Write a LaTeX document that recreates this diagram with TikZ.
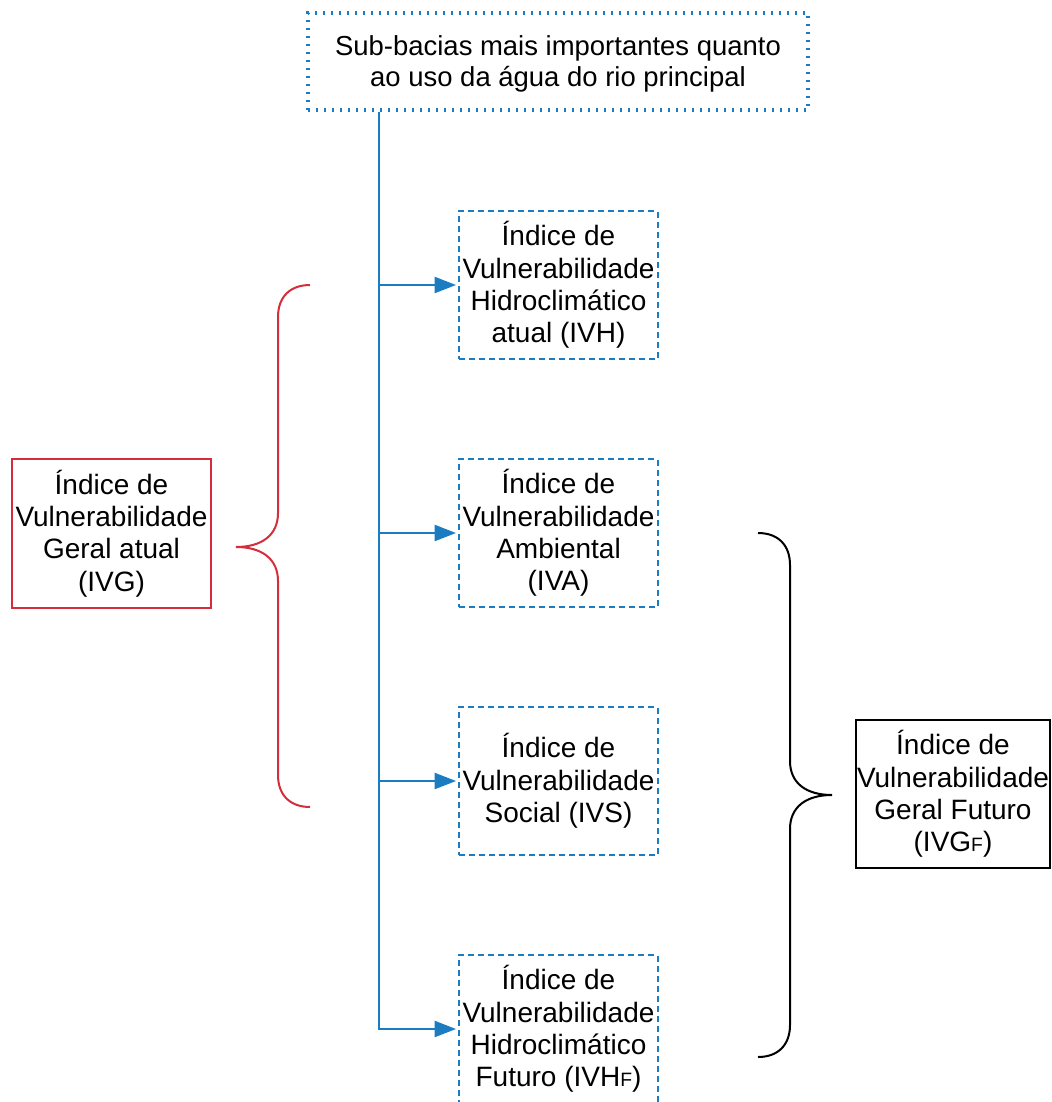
\documentclass[tikz,border=0pt]{standalone}
\usepackage{fontspec}
\setmainfont{Liberation Sans}
\usetikzlibrary{arrows.meta}

\definecolor{flowblue}{RGB}{28,124,194}
\definecolor{bracered}{RGB}{212,46,60}

\newcommand{\smallF}{{\fontsize{14.5}{14.5}\selectfont F}}

\begin{document}
\begin{tikzpicture}[
  x=0.75pt, y=-0.75pt,
  every node/.style={font=\fontsize{21}{24.2}\selectfont, align=center, inner sep=0pt},
  sourcebox/.style={draw=flowblue, line width=2.6pt, dash pattern=on 1.5pt off 4.5pt,
    minimum width=375pt, minimum height=72.75pt, font=\fontsize{20.6}{23.4}\selectfont},
  indexbox/.style={draw=flowblue, line width=1.5pt, dash pattern=on 4.5pt off 3pt,
    minimum width=149.25pt, minimum height=110.5pt},
  redbox/.style={draw=bracered, line width=1.6pt, minimum width=149.25pt, minimum height=111.75pt},
  blackbox/.style={draw=black, line width=1.6pt, minimum width=145.5pt, minimum height=111pt},
  conn/.style={draw=flowblue, line width=1.6pt},
  arrowconn/.style={conn, -{Triangle[length=16pt,width=12pt]}, shorten >=1.5pt},
  bracered line/.style={draw=bracered, line width=1.5pt},
  braceblack line/.style={draw=black, line width=1.5pt}
]
\useasboundingbox (0,0) rectangle (1051,1102);
\clip (0,0) rectangle (1051,1102);

% source box and the four indices
\node[sourcebox] (src) at (558,61.5) {\raisebox{-2.6pt}[\height][\depth]{\begin{tabular}{@{}c@{}}Sub-bacias mais importantes quanto\\ao uso da água do rio principal\end{tabular}}};
\node[indexbox] (ivh)  at (558.5,285)  {Índice de\\Vulnerabilidade\\Hidroclimático\\atual (IVH)};
\node[indexbox] (iva)  at (558.5,533)  {Índice de\\Vulnerabilidade\\Ambiental\\(IVA)};
\node[indexbox] (ivs)  at (558.5,781)  {Índice de\\Vulnerabilidade\\Social (IVS)};
\node[indexbox] (ivhf) at (558.5,1029) {Índice de\\Vulnerabilidade\\Hidroclimático\\Futuro (IVH\smallF)};

% aggregated indices
\node[redbox]   (ivg)  at (111.5,533.5) {Índice de\\Vulnerabilidade\\Geral atual\\(IVG)};
\node[blackbox] (ivgf) at (953,794)     {Índice de\\Vulnerabilidade\\Geral Futuro\\(IVG\smallF)};

% trunk line with branches
\coordinate (trunk) at (379,0);
\draw[arrowconn] (src.south -| trunk) |- (ivhf.west);
\draw[arrowconn] (trunk |- ivh.west) -- (ivh.west);
\draw[arrowconn] (trunk |- iva.west) -- (iva.west);
\draw[arrowconn] (trunk |- ivs.west) -- (ivs.west);

% brace grouping the current indices
\draw[bracered line] (310,285) .. controls (290,285) and (278,297) .. (278,317)
  -- (278,513) .. controls (278,535) and (262,547) .. (236,547)
  .. controls (262,547) and (278,559) .. (278,581)
  -- (278,775) .. controls (278,795) and (290,807) .. (310,807);

% brace grouping the future indices
\draw[braceblack line] (758,533) .. controls (778,533) and (790,545) .. (790,565)
  -- (790,761) .. controls (790,783) and (806,795) .. (832,795)
  .. controls (806,795) and (790,807) .. (790,829)
  -- (790,1025) .. controls (790,1045) and (778,1057) .. (758,1057);
\end{tikzpicture}
\end{document}
